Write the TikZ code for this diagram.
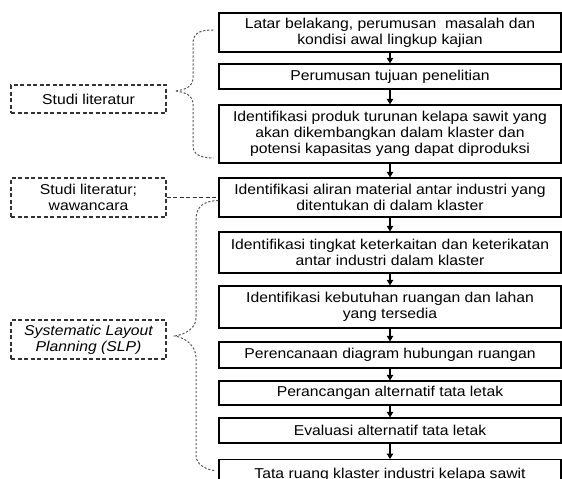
\documentclass[tikz,border=0pt]{standalone}
\usepackage{fontspec}
\setmainfont{Liberation Sans}[FakeStretch=1.1]
\usetikzlibrary{arrows.meta,calc}
\begin{document}
\begin{tikzpicture}[x=1pt,y=-1pt,
  mainbox/.style={draw=black,line width=1.3pt,minimum width=342pt,inner sep=0pt,align=center,font=\fontsize{14.3}{16}\selectfont},
  sidebox/.style={draw=black!80,line width=1.2pt,dash pattern=on 4pt off 2.5pt,minimum width=155pt,inner sep=0pt,align=center,font=\fontsize{14.3}{16}\selectfont},
  flow/.style={line width=1.1pt,-{Triangle[length=5.5pt,width=6.5pt]}},
  bracepath/.style={draw=black!65,line width=1pt,dash pattern=on 2.2pt off 1.8pt},
  linkpath/.style={draw=black!80,line width=1.2pt,dash pattern=on 4pt off 2.5pt}]
\clip (0,0) rectangle (562,479);
\useasboundingbox (0,0) rectangle (562,479);
\fill[white] (0,0) rectangle (562,479);

\node[mainbox,minimum height=39pt] (b1) at (390,32.5) {Latar belakang, perumusan\ \ masalah dan\\kondisi awal lingkup kajian};
\node[mainbox,minimum height=25pt] (b2) at (390,76.5) {Perumusan tujuan penelitian};
\node[mainbox,minimum height=58pt] (b3) at (390,134) {Identifikasi produk turunan kelapa sawit yang\\akan dikembangkan dalam klaster dan\\potensi kapasitas yang dapat diproduksi};
\node[mainbox,minimum height=39pt] (b4) at (390,197.5) {Identifikasi aliran material antar industri yang\\ditentukan di dalam klaster};
\node[mainbox,minimum height=41pt] (b5) at (390,252.5) {Identifikasi tingkat keterkaitan dan keterikatan\\antar industri dalam klaster};
\node[mainbox,minimum height=42pt] (b6) at (390,307) {Identifikasi kebutuhan ruangan dan lahan\\yang tersedia};
\node[mainbox,minimum height=26pt] (b7) at (390,355) {Perencanaan diagram hubungan ruangan};
\node[mainbox,minimum height=24pt] (b8) at (390,393) {Perancangan alternatif tata letak};
\node[mainbox,minimum height=25pt] (b9) at (390,430.5) {Evaluasi alternatif tata letak};
\node[mainbox,minimum height=28pt,anchor=north] (b10) at (390,459) {\raisebox{0pt}[12pt][0pt]{Tata ruang klaster industri kelapa sawit}\vphantom{Tg}};

\foreach \a/\b in {b1/b2,b2/b3,b3/b4,b4/b5,b5/b6,b6/b7,b7/b8,b8/b9,b9/b10}
  \draw[flow] (\a.south) -- (\b.north);

\node[sidebox,minimum height=28pt] (s1) at (88.5,99) {Studi literatur};
\node[sidebox,minimum height=39pt] (s2) at (88.5,197.5) {Studi literatur;\\wawancara};
\node[sidebox,minimum height=39pt] (s3) at (88.5,339.5) {\itshape Systematic Layout\\\itshape Planning (SLP)};

\coordinate (tip1) at (175,91);
\coordinate (tip2) at (175,336);

\path[bracepath] ($(b1.west)+(-5,-2.5)$) .. controls (198,30) and (193,34) .. (193,44)
  -- (193,78) .. controls (193,86) and (186,90) .. (tip1)
  .. controls (186,92) and (193,96) .. (193,104)
  -- (193,146) .. controls (193,154) and (200,158) .. ($(b3.west)+(-5,24)$);

\path[linkpath] (s2.east) -- (b4.west);

\path[bracepath] ($(b4.west)+(0,3)$) .. controls (204,201) and (196,206) .. (196,220)
  -- (196,318) .. controls (196,328) and (186,334) .. (tip2)
  .. controls (186,338) and (196,346) .. (196,358)
  -- (196,456) .. controls (196,464) and (206,470) .. ($(b10.west)+(-3,-3)$);
\end{tikzpicture}
\end{document}
